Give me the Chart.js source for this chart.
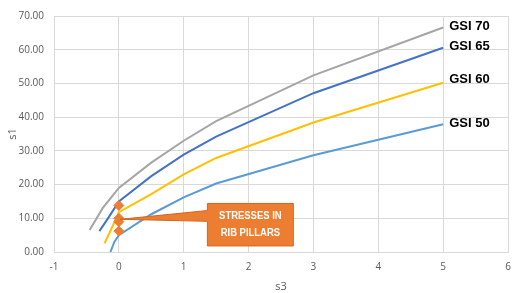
<!DOCTYPE html>
<html>
<head>
<meta charset="utf-8">
<script src="https://cdn.jsdelivr.net/npm/chart.js@4.4.1/dist/chart.umd.min.js"></script>
<style>
html,body{margin:0;padding:0;background:#fff;}
#wrap{width:520px;height:293px;position:relative;}
</style>
</head>
<body>
<div id="wrap"><canvas id="c" width="520" height="293"></canvas></div>
<script>
// ---- data ----
const seriesNames = ["GSI 70", "GSI 65", "GSI 60", "GSI 50"];
const gsi70_s3 = [-0.45, -0.25, 0, 0.5, 1, 1.5, 3, 5];
const gsi70_s1 = [6.5, 13.0, 19.0, 26.5, 33.0, 38.8, 52.4, 66.6];
const gsi65_s3 = [-0.30, -0.15, 0, 0.5, 1, 1.5, 3, 5];
const gsi65_s1 = [6.2, 10.5, 15.0, 22.5, 28.9, 34.2, 47.1, 60.6];
const gsi60_s3 = [-0.22, -0.10, 0, 0.5, 1, 1.5, 3, 5];
const gsi60_s1 = [2.6, 7.5, 11.8, 17.2, 23.0, 27.9, 38.4, 50.2];
const gsi50_s3 = [-0.13, -0.07, 0, 0.5, 1, 1.5, 3, 5];
const gsi50_s1 = [0.0, 3.0, 5.0, 11.2, 16.2, 20.3, 28.7, 37.9];
const pillar_s3 = [0, 0, 0, 0];
const pillar_s1 = [13.8, 10.0, 9.0, 6.2];
const xTicks = [-1, 0, 1, 2, 3, 4, 5, 6];
const yTicks = [0, 10, 20, 30, 40, 50, 60, 70];
const calloutText = ["STRESSES IN", "RIB PILLARS"];

const colors = ["#A5A5A5", "#4472C4", "#FFC000", "#5B9BD5"];
const xs = [gsi70_s3, gsi65_s3, gsi60_s3, gsi50_s3];
const ys = [gsi70_s1, gsi65_s1, gsi60_s1, gsi50_s1];
const pts = (a, b) => a.map((v, i) => ({x: v, y: b[i]}));

const datasets = seriesNames.map((n, i) => ({
  label: n,
  data: pts(xs[i], ys[i]),
  showLine: true,
  borderColor: colors[i],
  backgroundColor: colors[i],
  borderWidth: 2,
  pointRadius: 0,
  tension: 0,
  order: 1
}));
datasets.push({
  label: "pillars",
  data: pts(pillar_s3, pillar_s1),
  showLine: false,
  pointStyle: "rectRot",
  pointRadius: 5,
  backgroundColor: "#ED7D31",
  borderColor: "#ED7D31",
  borderWidth: 1,
  order: 0
});

const overlay = {
  id: "overlay",
  afterDatasetsDraw(chart) {
    const ctx = chart.ctx;
    const xS = chart.scales.x, yS = chart.scales.y;
    // series end labels
    ctx.save();
    ctx.fillStyle = "#000";
    ctx.font = "bold 13px 'Liberation Sans', Arial, sans-serif";
    ctx.textAlign = "left";
    ctx.textBaseline = "middle";
    const dy = [-1, -1, -3, -1];
    seriesNames.forEach((n, i) => {
      const lx = xs[i][xs[i].length - 1], ly = ys[i][ys[i].length - 1];
      ctx.fillText(n, xS.getPixelForValue(lx) + 6, yS.getPixelForValue(ly) + dy[i]);
    });
    // callout
    const bx0 = xS.getPixelForValue(1.365), bx1 = xS.getPixelForValue(2.69);
    const by0 = yS.getPixelForValue(14.4), by1 = yS.getPixelForValue(1.8);
    const tipX = xS.getPixelForValue(0.02), tipY = yS.getPixelForValue(9.7);
    const wy0 = yS.getPixelForValue(12.3), wy1 = yS.getPixelForValue(9.1);
    ctx.fillStyle = "#ED7D31";
    ctx.strokeStyle = "#D0671F";
    ctx.lineWidth = 1;
    ctx.beginPath();
    ctx.moveTo(bx0, by0);
    ctx.lineTo(bx1, by0);
    ctx.lineTo(bx1, by1);
    ctx.lineTo(bx0, by1);
    ctx.lineTo(bx0, wy1);
    ctx.lineTo(tipX, tipY);
    ctx.lineTo(bx0, wy0);
    ctx.closePath();
    ctx.fill();
    ctx.stroke();
    ctx.fillStyle = "#fff";
    ctx.font = "bold 10.5px 'Liberation Sans', Arial, sans-serif";
    ctx.textAlign = "center";
    const cx = (bx0 + bx1) / 2, cy = (by0 + by1) / 2;
    ctx.save();
    ctx.translate(cx, cy);
    ctx.scale(0.9, 1);
    ctx.fillText(calloutText[0], 0, -8.5);
    ctx.fillText(calloutText[1], 0, 8.5);
    ctx.restore();
    ctx.restore();
  }
};

new Chart(document.getElementById("c"), {
  type: "scatter",
  data: {datasets},
  options: {
    responsive: false,
    animation: false,
    layout: {padding: {top: 12, right: 12, bottom: 0, left: 0}},
    plugins: {legend: {display: false}, tooltip: {enabled: false}},
    scales: {
      x: {
        type: "linear",
        min: -1, max: 6,
        afterBuildTicks: s => { s.ticks = xTicks.map(v => ({value: v})); },
        afterFit: s => { s.height = 41; },
        grid: {color: "#D9D9D9", drawTicks: false},
        border: {color: "#D9D9D9"},
        ticks: {color: "#595959", font: {family: "'Open Sans', sans-serif", size: 10}, padding: 9},
        title: {display: true, text: "s3", color: "#595959", font: {family: "'Open Sans', sans-serif", size: 11}, padding: {top: 4, bottom: 0}}
      },
      y: {
        type: "linear",
        min: 0, max: 70,
        afterBuildTicks: s => { s.ticks = yTicks.map(v => ({value: v})); },
        afterFit: s => { s.width = 54; },
        grid: {color: "#D9D9D9", drawTicks: false},
        border: {color: "#D9D9D9"},
        ticks: {color: "#595959", font: {family: "'Open Sans', sans-serif", size: 10}, padding: 10, callback: v => Number(v).toFixed(2)},
        title: {display: true, text: "s1", color: "#595959", font: {family: "'Open Sans', sans-serif", size: 11}, padding: {top: 6, bottom: 0}}
      }
    }
  },
  plugins: [overlay]
});
</script>
</body>
</html>
